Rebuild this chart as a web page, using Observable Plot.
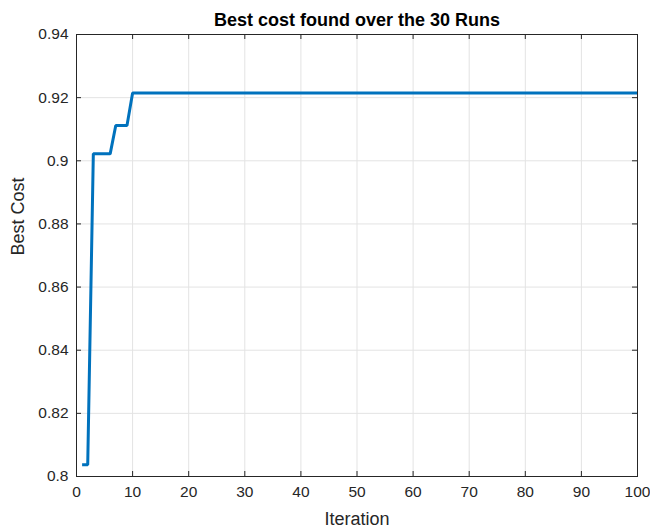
<!DOCTYPE html>
<html>
<head>
<meta charset="utf-8">
<script src="https://cdn.jsdelivr.net/npm/d3@7"></script>
<script src="https://cdn.jsdelivr.net/npm/@observablehq/plot@0.6"></script>
<style>
  html, body { margin: 0; padding: 0; background: #fff; }
  #chart { width: 650px; height: 528px; }
</style>
</head>
<body>
<div id="chart"></div>
<script>
// Points where the best-cost curve changes (iteration, best cost)
const iterations = [1, 2, 3, 6, 7, 9, 10, 100];
const bestCost = [0.8037, 0.8037, 0.9022, 0.9022, 0.9112, 0.9112, 0.9215, 0.9215];
const xTicks = [0, 10, 20, 30, 40, 50, 60, 70, 80, 90, 100];
const yTicks = [0.8, 0.82, 0.84, 0.86, 0.88, 0.9, 0.92, 0.94];
const yTickLabels = ["0.8", "0.82", "0.84", "0.86", "0.88", "0.9", "0.92", "0.94"];
const title = "Best cost found over the 30 Runs";

const data = iterations.map((x, i) => ({x, y: bestCost[i]}));

const W = 650, H = 528;
const mL = 76, mR = 13, mT = 34, mB = 52;
const pw = W - mL - mR, ph = H - mT - mB;
const ink = "#262626";
const font = "'Liberation Sans', Arial, Helvetica, sans-serif";

const chart = Plot.plot({
  width: W,
  height: H,
  marginLeft: mL,
  marginRight: mR,
  marginTop: mT,
  marginBottom: mB,
  style: {fontFamily: font, fontSize: "15px", color: ink, background: "#fff"},
  x: {domain: [0, 100], label: null},
  y: {domain: [0.8, 0.94], label: null},
  marks: [
    Plot.gridX(xTicks, {stroke: "#e3e3e3", strokeOpacity: 1}),
    Plot.gridY(yTicks, {stroke: "#e3e3e3", strokeOpacity: 1}),
    Plot.line(data, {x: "x", y: "y", stroke: "#0072BD", strokeWidth: 3, strokeLinejoin: "miter", strokeLinecap: "butt"}),
    Plot.frame({stroke: ink, strokeWidth: 1}),
    // inward ticks on all four sides
    Plot.tickX(xTicks, {x: d => d, stroke: ink, insetTop: ph - 5}),
    Plot.tickX(xTicks, {x: d => d, stroke: ink, insetBottom: ph - 5}),
    Plot.tickY(yTicks, {y: d => d, stroke: ink, insetRight: pw - 5}),
    Plot.tickY(yTicks, {y: d => d, stroke: ink, insetLeft: pw - 5}),
    Plot.axisX(xTicks, {anchor: "bottom", tickSize: 0, tickPadding: 9, fontSize: 15.5, fill: ink, label: null}),
    Plot.axisY(yTicks, {anchor: "left", tickSize: 0, tickPadding: 8, fontSize: 15.5, fill: ink, tickFormat: (d) => yTickLabels[yTicks.indexOf(d)], label: null}),
    Plot.text(["Iteration"], {frameAnchor: "bottom", dy: 43, fontSize: 18, fill: ink, lineAnchor: "middle", text: d => d}),
    Plot.text(["Best Cost"], {frameAnchor: "left", dx: -58, rotate: -90, fontSize: 18, fill: ink, lineAnchor: "middle", text: d => d}),
    Plot.text([title], {frameAnchor: "top", dy: -14, fontSize: 18, fontWeight: "bold", fill: "#000", lineAnchor: "middle", text: d => d})
  ]
});
document.getElementById("chart").appendChild(chart);
</script>
</body>
</html>
